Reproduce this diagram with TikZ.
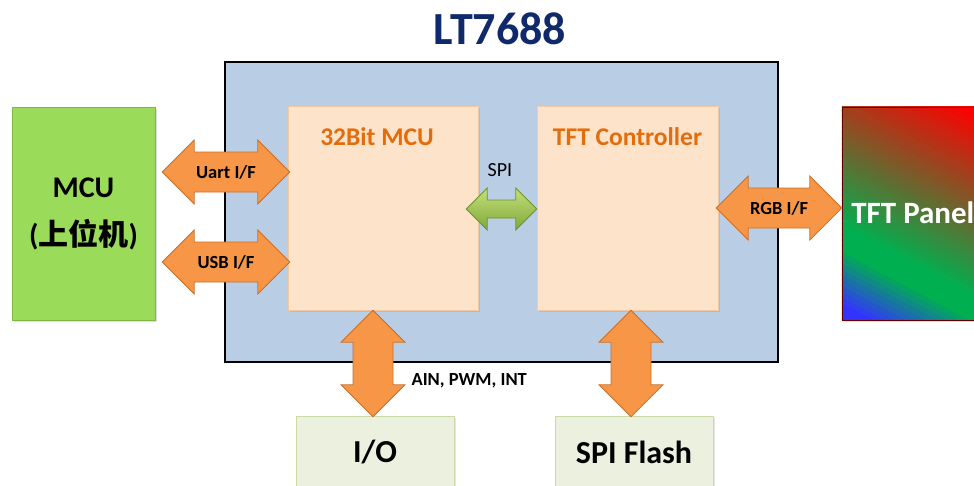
\documentclass[tikz,border=0pt]{standalone}
\usepackage{fontspec}
\setmainfont{Carlito}
\newfontfamily\cjk{Noto Sans CJK SC}
\usetikzlibrary{calc,shadows}

\definecolor{navy}{HTML}{10296A}
\definecolor{chipblue}{HTML}{B9CDE5}
\definecolor{peach}{HTML}{FDE3CA}
\definecolor{peachline}{HTML}{F2C9A2}
\definecolor{busorange}{HTML}{F79646}
\definecolor{busline}{HTML}{C7702E}
\definecolor{hostgreen}{HTML}{9BDB5A}
\definecolor{hostline}{HTML}{7FB843}
\definecolor{palegreen}{HTML}{EBF1DE}
\definecolor{paleline}{HTML}{C9D9A8}
\definecolor{spilight}{HTML}{C3E07A}
\definecolor{spidark}{HTML}{7FA83A}
\definecolor{spiline}{HTML}{6E9430}
\definecolor{labelorange}{HTML}{E46C0A}
\definecolor{panelblue}{HTML}{3333FF}
\definecolor{panelgreen}{HTML}{00B050}
\definecolor{panelred}{HTML}{FF0000}

% fat double arrows: [style]{from}{to}{head}{shaft}
\newcommand\hbus[5][]{%
  \draw[bus,#1] let \p1=(#2), \p2=(#3) in
    (\p1) -- (\x1+#4pt,\y1+#4pt) -- (\x1+#4pt,\y1+#5pt) -- (\x2-#4pt,\y2+#5pt)
    -- (\x2-#4pt,\y2+#4pt) -- (\p2) -- (\x2-#4pt,\y2-#4pt) -- (\x2-#4pt,\y2-#5pt)
    -- (\x1+#4pt,\y1-#5pt) -- (\x1+#4pt,\y1-#4pt) -- cycle;}
\newcommand\vbus[5][]{%
  \draw[bus,#1] let \p1=(#2), \p2=(#3) in
    (\p1) -- (\x1+#4pt,\y1-#4pt) -- (\x1+#5pt,\y1-#4pt) -- (\x2+#5pt,\y2+#4pt)
    -- (\x2+#4pt,\y2+#4pt) -- (\p2) -- (\x2-#4pt,\y2+#4pt) -- (\x2-#5pt,\y2+#4pt)
    -- (\x1-#5pt,\y1-#4pt) -- (\x1-#4pt,\y1-#4pt) -- cycle;}

\begin{document}
\begin{tikzpicture}[x=1pt,y=-1pt,
  chip/.style={draw=black, line width=2pt, fill=chipblue},
  host/.style={draw=hostline, fill=hostgreen, drop shadow={opacity=.25}},
  part/.style={draw=peachline, fill=peach, drop shadow={opacity=.2}},
  ext/.style={draw=paleline, fill=palegreen, drop shadow={opacity=.2}},
  bus/.style={draw=busline, fill=busorange, line width=.8pt, line join=miter},
  spibus/.style={draw=spiline, top color=spilight, bottom color=spidark},
  buslabel/.style={font=\fontsize{18.5}{20}\selectfont\bfseries},
  parttitle/.style={text=labelorange, font=\fontsize{25.5}{28}\selectfont\bfseries},
  exttext/.style={font=\fontsize{32}{36}\selectfont\bfseries},
]
\clip (0,0) rectangle (974,485);

% blocks
\node[chip, minimum width=553pt, minimum height=300pt] (chip) at (501.5,212) {};
\node[text=navy, font=\fontsize{46}{52}\selectfont\bfseries] (title) at (500,29) {LT7688};
\node[host, minimum width=143pt, minimum height=213pt, align=center,
  font=\fontsize{30}{48}\selectfont\bfseries] (mcu) at (83.5,213.5) {MCU\\({\cjk 上位机})};
\node[part, minimum width=190pt, minimum height=204pt] (cpu) at (383,208) {};
\node[parttitle] (cputitle) at ([xshift=-6pt,yshift=-31pt]cpu.north) {32Bit MCU};
\node[part, minimum width=181pt, minimum height=204pt] (tft) at (627.5,208) {};
\node[parttitle] (tfttitle) at ([yshift=-31pt]tft.north) {TFT Controller};

% panel with diagonal rgb gradient
\path[drop shadow={opacity=.25}] (842,107) rectangle (985,320);
\node[minimum width=143pt, minimum height=213pt, inner sep=0pt] (panel) at (913.5,213.5) {};
\begin{scope}
  \clip (panel.south west) rectangle (panel.north east);
  \foreach \i in {0,...,59} {
    \pgfmathsetmacro\sa{-10+\i*5}
    \pgfmathsetmacro\sb{\sa+5.8}
    \pgfmathsetmacro\pg{max(0,min(100,(\sa-10)/50*100))}
    \pgfmathsetmacro\pr{max(0,min(100,(\sa-80)/165*100))}
    \fill[panelred!\pr!panelgreen!\pg!panelblue]
      ({842+0.47*\sa-220},{320-0.88*\sa-117.5}) -- ({842+0.47*\sa+220},{320-0.88*\sa+117.5})
      -- ({842+0.47*\sb+220},{320-0.88*\sb+117.5}) -- ({842+0.47*\sb-220},{320-0.88*\sb-117.5}) -- cycle;
  }
\end{scope}
\draw[red!40!black] (panel.south west) rectangle (panel.north east);
\node[anchor=west, text=white, font=\fontsize{31}{34}\selectfont\bfseries]
  (paneltext) at ([xshift=6pt]panel.west |- 0,213) {TFT Panel};

\node[ext, minimum width=158pt, minimum height=84pt] (io) at (375,458) {};
\node[ext, minimum width=158pt, minimum height=84pt] (flash) at (634,458) {};
\node[exttext] (iotext) at (375,452) {I/O};
\node[exttext] (flashtext) at (634,452) {SPI Flash};

% buses
\coordinate (uartL) at ($(mcu.east |- 0,172)+(7,0)$);
\coordinate (uartR) at ($(cpu.west |- 0,172)+(2,0)$);
\coordinate (usbL) at ($(mcu.east |- 0,262)+(7,0)$);
\coordinate (usbR) at ($(cpu.west |- 0,262)+(2,0)$);
\coordinate (rgbL) at ($(tft.east |- 0,208)+(-2,0)$);
\coordinate (rgbR) at (panel.west |- 0,208);
\coordinate (spiL) at ($(cpu.east |- 0,209)+(-12,0)$);
\coordinate (spiR) at (tft.west |- 0,209);
\coordinate (ioT) at ($(cpu.south)+(-10,0)$);
\coordinate (ioB) at ($(io.north -| ioT)+(0,1)$);
\coordinate (flashT) at ($(tft.south)+(3.5,0)$);
\coordinate (flashB) at ($(flash.north -| flashT)+(0,1)$);

\hbus{uartL}{uartR}{32}{20}
\hbus{usbL}{usbR}{32}{20}
\hbus{rgbL}{rgbR}{32}{20}
\hbus[spibus]{spiL}{spiR}{21}{9}
\vbus{ioT}{ioB}{32}{20}
\vbus{flashT}{flashB}{32}{20}

\node[buslabel] (uartlabel) at ($(uartL)!.5!(uartR)$) {Uart I/F};
\node[buslabel] (usblabel) at ($(usbL)!.5!(usbR)$) {USB I/F};
\node[buslabel] (rgblabel) at ($(rgbL)!.5!(rgbR)$) {RGB I/F};
\node[font=\fontsize{20}{22}\selectfont] (spilabel) at (500,170) {SPI};
\node[buslabel, anchor=west] (iolabel) at (408,381) {AIN, PWM, INT};
\end{tikzpicture}
\end{document}
